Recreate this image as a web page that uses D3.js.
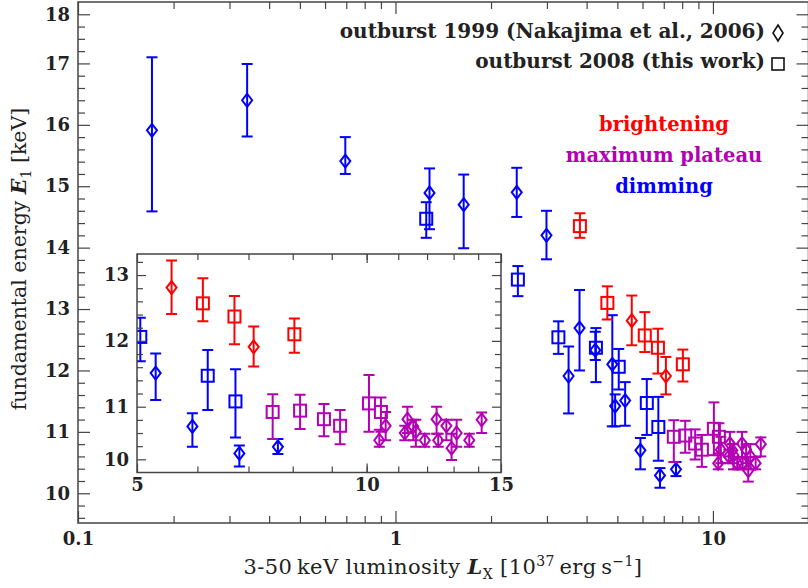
<!DOCTYPE html>
<html>
<head>
<meta charset="utf-8">
<script src="https://cdn.jsdelivr.net/npm/d3@7"></script>
<style>
body { margin: 0; background: #fff; }
svg { display: block; }
text { font-family: "DejaVu Serif", serif; fill: #222; }
</style>
</head>
<body>
<div id="chart"></div>
<script>
// rows: [L_X (10^37 erg/s), E1 (keV), E1 lower, E1 upper]
const dimming1999 = [
    [0.171, 15.91, 14.59, 17.10], [0.341, 16.40, 15.81, 16.99], [0.695, 15.41, 15.20, 15.80],
    [1.28, 14.89, 14.30, 15.29], [1.64, 14.70, 13.99, 15.19], [2.41, 14.90, 14.50, 15.30],
    [2.99, 14.20, 13.81, 14.60], [3.51, 11.91, 11.30, 12.39], [3.80, 12.69, 12.00, 13.31],
    [4.26, 12.33, 12.17, 12.63], [4.82, 12.10, 11.09, 12.90], [4.92, 11.42, 11.09, 11.61],
    [5.29, 11.51, 11.10, 11.81], [5.91, 10.70, 10.39, 10.90], [6.81, 10.29, 10.09, 10.41],
    [7.65, 10.39, 10.28, 10.51]
];
const dimming2008 = [
    [1.25, 14.47, 14.16, 14.74], [2.43, 13.48, 13.21, 13.70], [3.26, 12.54, 12.27, 12.80],
    [4.28, 12.37, 11.81, 12.69], [5.05, 12.06, 11.69, 12.35], [6.19, 11.47, 10.95, 11.86],
    [6.73, 11.08, 10.53, 11.57]
];
const brightening1999 = [
    [5.55, 12.81, 12.41, 13.22], [7.11, 11.91, 11.61, 12.22]
];
const brightening2008 = [
    [3.81, 14.35, 14.16, 14.56], [4.65, 13.10, 12.83, 13.37], [6.10, 12.57, 12.30, 12.95],
    [6.71, 12.37, 11.95, 12.68], [8.04, 12.10, 11.82, 12.34]
];
const plateau1999 = [
    [10.39, 10.49, 10.39, 10.65], [10.59, 10.71, 10.49, 10.92], [11.22, 10.60, 10.49, 10.71],
    [11.31, 10.81, 10.60, 11.00], [11.51, 10.70, 10.49, 10.80], [11.60, 10.62, 10.39, 10.80],
    [11.92, 10.49, 10.39, 10.59], [12.35, 10.81, 10.59, 11.00], [12.41, 10.49, 10.39, 10.59],
    [12.72, 10.71, 10.49, 10.80], [12.92, 10.37, 10.19, 10.59], [13.12, 10.60, 10.39, 10.80],
    [13.63, 10.49, 10.39, 10.59], [14.15, 10.80, 10.60, 10.91]
];
const plateau2008 = [
    [7.53, 10.92, 10.51, 11.19], [8.18, 10.94, 10.66, 11.18], [8.79, 10.81, 10.55, 11.04],
    [9.23, 10.71, 10.43, 10.95], [10.07, 11.05, 10.62, 11.48], [10.44, 10.92, 10.62, 11.14]
];

// tick labels
const mainXTicks = [0.1, 1, 10];
const mainXLabels = ["0.1", "1", "10"];
const mainYTicks = [10, 11, 12, 13, 14, 15, 16, 17, 17.8];
const mainYLabels = ["10", "11", "12", "13", "14", "15", "16", "17", "18"];
const insetXTicks = [5, 10, 15];
const insetXLabels = ["5", "10", "15"];
const insetYTicks = [10.2, 11, 12, 13];
const insetYLabels = ["10", "11", "12", "13"];

const legendNames = ["outburst 1999 (Nakajima et al., 2006)", "outburst 2008 (this work)"];
const phaseNames = ["brightening", "maximum plateau", "dimming"];

const RED = "#ff0000", MAG = "#b400b4", BLUE = "#0000ff";
const AXIS = "#444";

const series = [
    {data: dimming1999, shape: "diamond", color: BLUE},
    {data: dimming2008, shape: "square", color: BLUE},
    {data: plateau2008, shape: "square", color: MAG},
    {data: plateau1999, shape: "diamond", color: MAG},
    {data: brightening2008, shape: "square", color: RED},
    {data: brightening1999, shape: "diamond", color: RED}
];

let svg = d3.select("#chart")
    .append("svg")
    .attr("width", 808)
    .attr("height", 588);

// main scales
let x = d3.scaleLog().domain([0.1, 20]).range([78, 808.5]);
let y = d3.scaleLinear().domain([9.516, 18.0]).range([523, 2]);

// inset scales
let xi = d3.scaleLog().domain([5, 15]).range([137, 501]);
let yi = d3.scaleLinear().domain([10, 13.32]).range([472.5, 254]);

let logMinor = d3.range(-1, 2).flatMap(e => d3.range(2, 10).map(m => m * Math.pow(10, e))).filter(v => v < 20);

function styleAxis(g, fontSize, weight) {
    g.select(".domain").remove();
    g.attr("font-family", null).attr("font-size", null);
    g.selectAll("line").attr("stroke", AXIS).attr("stroke-width", 1.2);
    g.selectAll("text")
        .style("font-size", fontSize + "px")
        .style("font-weight", weight)
        .attr("fill", "#222");
}

// ticks on all four sides, pointing inward
function drawFrame(root, xs, ys, o) {
    const [x0, x1] = xs.range();
    const [y0, y1] = ys.range();
    const sides = [
        [d3.axisBottom, xs, `translate(0,${y0})`, o.xMinor, o.xMajor, o.xLabels, o.xPad],
        [d3.axisTop, xs, `translate(0,${y1})`, o.xMinor, o.xMajor, null, 0],
        [d3.axisLeft, ys, `translate(${x0},0)`, o.yMinor, o.yMajor, o.yLabels, o.yPad],
        [d3.axisRight, ys, `translate(${x1},0)`, o.yMinor, o.yMajor, null, 0]
    ];
    sides.forEach(([axisFn, sc, tr, minor, major, labels, pad]) => {
        root.append("g").attr("transform", tr)
            .call(axisFn(sc).tickValues(minor).tickSize(-o.minorLen).tickFormat(""))
            .call(g => styleAxis(g, o.fontSize, "bold"));
        root.append("g").attr("transform", tr)
            .call(axisFn(sc).tickValues(major).tickSize(-o.majorLen).tickPadding(pad)
                .tickFormat((d, i) => labels ? labels[i] : ""))
            .call(g => styleAxis(g, o.fontSize, "bold"));
    });
    root.append("rect")
        .attr("x", x0).attr("y", y1)
        .attr("width", x1 - x0).attr("height", y0 - y1)
        .attr("fill", "none")
        .attr("stroke", AXIS)
        .attr("stroke-width", 1.5);
}

function drawPoints(root, xs, ys, clipId) {
    const [x0, x1] = xs.range();
    const [y0, y1] = ys.range();
    svg.append("clipPath").attr("id", clipId)
        .append("rect").attr("x", x0).attr("y", y1).attr("width", x1 - x0).attr("height", y0 - y1);
    let g = root.append("g").attr("clip-path", `url(#${clipId})`);
    series.forEach(s => {
        let pts = g.append("g")
            .attr("stroke", s.color)
            .attr("stroke-width", 2)
            .attr("fill", "none")
            .selectAll("g")
            .data(s.data)
            .enter()
            .append("g");
        // error bar with caps
        pts.append("line")
            .attr("x1", d => xs(d[0])).attr("x2", d => xs(d[0]))
            .attr("y1", d => ys(d[2])).attr("y2", d => ys(d[3]));
        pts.append("line")
            .attr("x1", d => xs(d[0]) - 5.5).attr("x2", d => xs(d[0]) + 5.5)
            .attr("y1", d => ys(d[2])).attr("y2", d => ys(d[2]));
        pts.append("line")
            .attr("x1", d => xs(d[0]) - 5.5).attr("x2", d => xs(d[0]) + 5.5)
            .attr("y1", d => ys(d[3])).attr("y2", d => ys(d[3]));
        // marker
        if (s.shape === "square") {
            pts.append("rect")
                .attr("x", d => xs(d[0]) - 6).attr("y", d => ys(d[1]) - 6)
                .attr("width", 12).attr("height", 12);
        } else {
            pts.append("path")
                .attr("transform", d => `translate(${xs(d[0])},${ys(d[1])})`)
                .attr("d", "M0,-6.5L5,0L0,6.5L-5,0Z");
        }
    });
}

// main plot
let mainG = svg.append("g");
drawPoints(mainG, x, y, "clipMain");
drawFrame(mainG, x, y, {
    xMinor: logMinor, xMajor: mainXTicks, xLabels: mainXLabels, xPad: 9,
    yMinor: d3.range(96, 180, 2).map(v => v / 10).filter(v => !mainYTicks.includes(v)),
    yMajor: mainYTicks, yLabels: mainYLabels, yPad: 8,
    minorLen: 7, majorLen: 12, fontSize: 18
});

// inset
let insetG = svg.append("g");
insetG.append("rect")
    .attr("x", 137).attr("y", 254)
    .attr("width", 364).attr("height", 218.5)
    .attr("fill", "#fff");
drawPoints(insetG, xi, yi, "clipInset");
drawFrame(insetG, xi, yi, {
    xMinor: d3.range(6, 15), xMajor: insetXTicks, xLabels: insetXLabels, xPad: 6,
    yMinor: d3.range(102, 134, 2).map(v => v / 10).filter(v => !insetYTicks.includes(v)),
    yMajor: insetYTicks, yLabels: insetYLabels, yPad: 8,
    minorLen: 6, majorLen: 9, fontSize: 18
});

// legend
let legend = svg.append("g");
legendNames.forEach((name, i) => {
    legend.append("text")
        .attr("x", 765)
        .attr("y", 38 + i * 30)
        .style("text-anchor", "end")
        .style("font-size", "20px")
        .style("font-weight", "bold")
        .text(name);
});
legend.append("path")
    .attr("transform", "translate(778,33)")
    .attr("d", "M0,-8L5,0L0,8L-5,0Z")
    .attr("fill", "none").attr("stroke", "#111").attr("stroke-width", 1.6);
legend.append("rect")
    .attr("x", 772).attr("y", 58).attr("width", 12).attr("height", 12)
    .attr("fill", "none").attr("stroke", "#111").attr("stroke-width", 1.6);

// phase labels
[RED, MAG, BLUE].forEach((c, i) => {
    svg.append("text")
        .attr("x", 664)
        .attr("y", 131 + i * 31)
        .style("text-anchor", "middle")
        .style("font-size", "19.5px")
        .style("font-weight", "bold")
        .style("fill", c)
        .text(phaseNames[i]);
});

// x-axis label
let xLabel = svg.append("text")
    .attr("x", 443)
    .attr("y", 574)
    .style("text-anchor", "middle")
    .style("font-size", "21px")
    .style("letter-spacing", "0.4px");
xLabel.append("tspan").text("3-50\u2009keV luminosity ");
xLabel.append("tspan").style("font-style", "italic").style("font-weight", "bold").text("L");
xLabel.append("tspan").attr("dy", 5).style("font-size", "14px").text("X");
xLabel.append("tspan").attr("dy", -5).text(" [10");
xLabel.append("tspan").attr("dy", -8).style("font-size", "14px").text("37");
xLabel.append("tspan").attr("dy", 8).text("\u2009erg\u2009s");
xLabel.append("tspan").attr("dy", -8).style("font-size", "14px").text("\u22121");
xLabel.append("tspan").attr("dy", 8).text("]");

// y-axis label
let yLabel = svg.append("text")
    .attr("transform", "translate(26,259) rotate(-90)")
    .style("text-anchor", "middle")
    .style("font-size", "20.5px");
yLabel.append("tspan").text("fundamental energy ");
yLabel.append("tspan").style("font-style", "italic").style("font-weight", "bold").text("E");
yLabel.append("tspan").attr("dy", 5).style("font-size", "14px").text("1");
yLabel.append("tspan").attr("dy", -5).text(" [keV]");
</script>
</body>
</html>
